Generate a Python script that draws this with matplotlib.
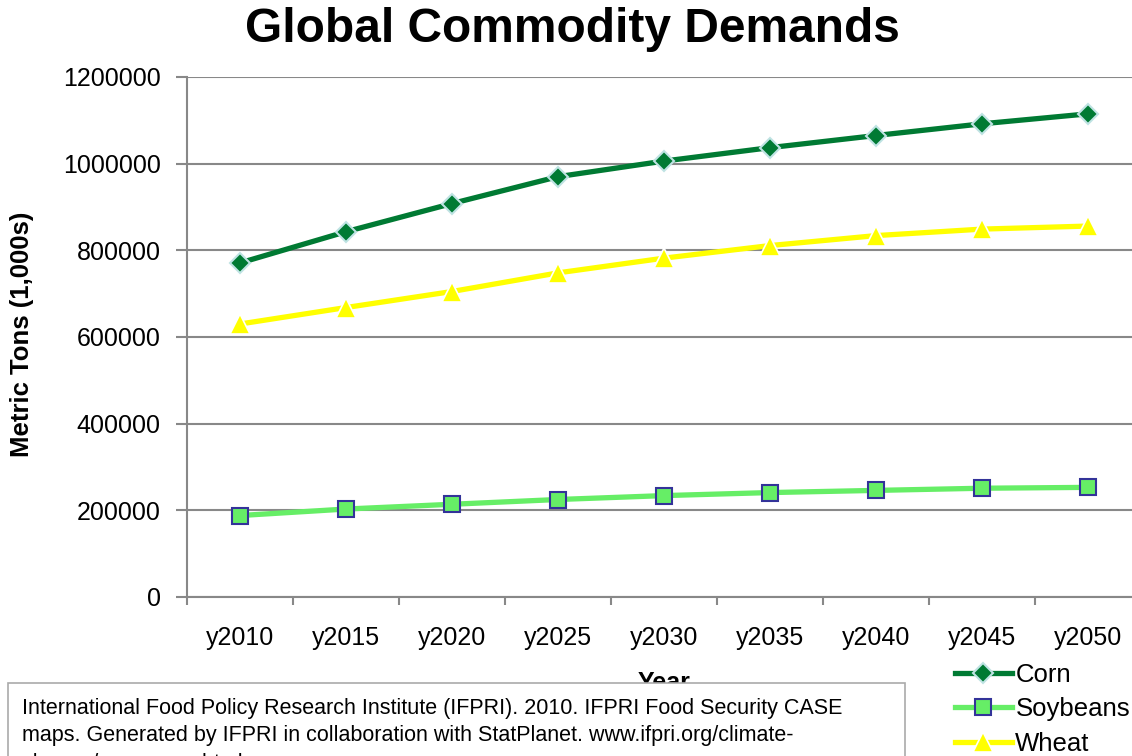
import matplotlib.pyplot as plt
from matplotlib.patches import Rectangle
from matplotlib.ticker import StrMethodFormatter

plt.rcParams['font.family'] = ['Liberation Sans', 'DejaVu Sans']

# Global demand, metric tons (1,000s)
years = ["y2010", "y2015", "y2020", "y2025", "y2030", "y2035", "y2040", "y2045", "y2050"]
corn = [771000, 843000, 908000, 970000, 1006000, 1037000, 1065000, 1092000, 1115000]
soybeans = [188000, 203000, 214000, 225000, 234000, 241000, 246000, 251000, 253000]
wheat = [630000, 668000, 705000, 748000, 782000, 811000, 834000, 849000, 856000]

fig = plt.figure(figsize=(11.32, 7.56), dpi=100)
ax = fig.add_axes([187 / 1132, 159 / 756, 954 / 1132, 520 / 756])

x = range(len(years))
ax.plot(x, corn, color="#007A33", lw=3.8, marker="D", ms=10,
        mfc="#007A33", mec="#BFE3E3", mew=1.5, label="Corn", zorder=3)
ax.plot(x, soybeans, color="#66EE66", lw=3.8, marker="s", ms=12,
        mfc="#66EE66", mec="#333399", mew=1.5, label="Soybeans", zorder=3)
ax.plot(x, wheat, color="#FFFF00", lw=3.8, marker="^", ms=15,
        mfc="#FFFF00", mec="white", mew=1.2, label="Wheat", zorder=3)

ax.set_ylim(0, 1200000)
ax.set_yticks(range(0, 1200001, 200000))
ax.yaxis.set_major_formatter(StrMethodFormatter("{x:.0f}"))
ax.set_xlim(-0.5, 8.5)
ax.set_xticks([i - 0.5 for i in range(len(years) + 1)])
ax.set_xticklabels([])
ax.set_xticks(list(x), minor=True)
ax.set_xticklabels(years, minor=True, fontsize=18)
ax.tick_params(axis="x", which="minor", length=0, pad=21)
ax.tick_params(axis="x", which="major", length=6, color="#888888", width=1.5)
ax.tick_params(axis="y", labelsize=18, length=8, color="#888888", width=1.5, pad=11)
ax.grid(axis="y", color="#888888", lw=1.5)
ax.set_axisbelow(True)
for side in ["top", "right"]:
    ax.spines[side].set_visible(False)
for side in ["left", "bottom"]:
    ax.spines[side].set_color("#888888")
    ax.spines[side].set_linewidth(1.5)

fig.text(572 / 1132, 1 - 30 / 756, "Global Commodity Demands", fontsize=34.5,
         fontweight="bold", ha="center", va="center")
fig.text(22 / 1132, 1 - 334 / 756, "Metric Tons (1,000s)", fontsize=18.5,
         fontweight="bold", rotation=90, ha="center", va="center")
fig.text(664 / 1132, 1 - 671 / 756, "Year", fontsize=18, fontweight="bold",
         ha="center", va="top")

ax.legend(loc="upper left", bbox_to_anchor=(955 / 1132, 1 - 663 / 756),
          bbox_transform=fig.transFigure, frameon=False, fontsize=18.5,
          handlelength=2.2, handletextpad=0.15, labelspacing=0.40,
          borderpad=0, borderaxespad=0)

# source note box
fig.add_artist(Rectangle((8 / 1132, -0.05), 897 / 1132, 1 - 683 / 756 + 0.05,
                         transform=fig.transFigure, facecolor="white",
                         edgecolor="#AAAAAA", lw=1.2, zorder=5))
note = ("International Food Policy Research Institute (IFPRI). 2010. IFPRI Food Security CASE\n"
        "maps. Generated by IFPRI in collaboration with StatPlanet. www.ifpri.org/climate-\n"
        "change/casemaps.html")
fig.text(22 / 1132, 1 - 698 / 756, note, fontsize=15.5, ha="left", va="top",
         linespacing=1.4, zorder=6)

fig.savefig("out.png", dpi=100)
